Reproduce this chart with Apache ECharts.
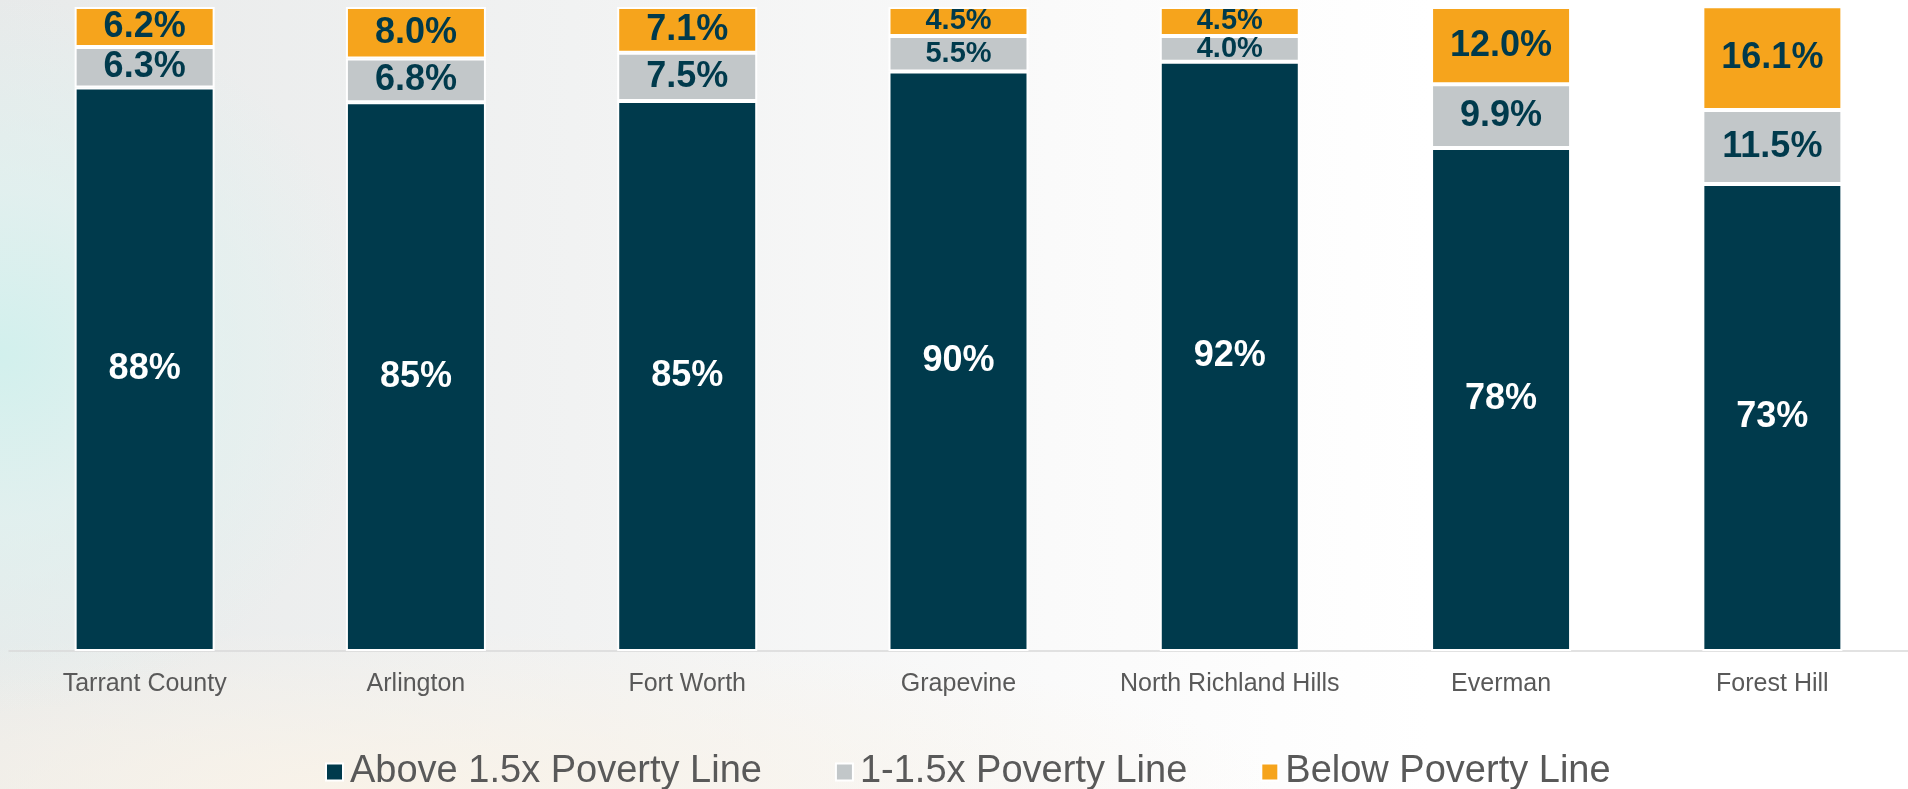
<!DOCTYPE html>
<html>
<head>
<meta charset="utf-8">
<script src="https://cdn.jsdelivr.net/npm/echarts@6/dist/echarts.min.js"></script>
<style>
html,body{margin:0;padding:0;width:1908px;height:789px;overflow:hidden;}
body{
  background:
    radial-gradient(ellipse 380px 360px at 0% 45%, rgba(210,240,237,1) 0%, rgba(222,242,240,0.7) 45%, rgba(255,255,255,0) 100%),
    radial-gradient(ellipse 900px 160px at 20% 100%, rgba(250,243,232,0.9) 0%, rgba(255,255,255,0) 100%),
    linear-gradient(to right, #e8eaea 0%, #f1f2f2 30%, #fafafa 55%, #ffffff 75%);
}
#chart{width:1908px;height:789px;}
</style>
</head>
<body>
<div id="chart"></div>
<script>
const categories = ['Tarrant County','Arlington','Fort Worth','Grapevine','North Richland Hills','Everman','Forest Hill'];
const aboveValues = [87.5, 85.2, 85.4, 90.0, 91.5, 78.1, 72.5];
const midValues = [6.3, 6.8, 7.5, 5.5, 4.0, 9.9, 11.5];
const belowValues = [6.2, 8.0, 7.1, 4.5, 4.5, 12.0, 16.1];
const seriesNames = ['Above 1.5x Poverty Line', '1-1.5x Poverty Line', 'Below Poverty Line'];

const DARK = '#003A4C', GRAY = '#C2C7C9', ORANGE = '#F6A41C';
const labelFont = "'Liberation Sans', Arial, sans-serif";

function smallItems(arr){
  return arr.map(v => ({ value: v, label: { fontSize: v < 6 ? 29 : 36 } }));
}

const chart = echarts.init(document.getElementById('chart'));
chart.setOption({
  backgroundColor: 'transparent',
  animation: false,
  grid: { left: 9, right: -9, top: 7, bottom: 138, containLabel: false },
  xAxis: {
    type: 'category',
    data: categories,
    axisLine: { lineStyle: { color: '#d9d9d9', width: 1.5 } },
    axisTick: { show: false },
    axisLabel: { interval: 0, color: '#595959', fontSize: 25, fontFamily: labelFont, margin: 21 }
  },
  yAxis: { type: 'value', min: 0, max: 100, show: false, splitLine: { show: false } },
  legend: {
    data: seriesNames,
    left: 320,
    top: 748,
    icon: 'rect',
    itemWidth: 17,
    itemHeight: 17,
    itemGap: 73,
    textStyle: { color: '#595959', fontSize: 38, fontFamily: labelFont, padding: [0,0,0,2] }
  },
  series: [
    {
      name: seriesNames[0], type: 'bar', stack: 's', barWidth: 140,
      data: aboveValues,
      itemStyle: { color: DARK, borderColor: '#ffffff', borderWidth: 2 },
      label: { show: true, position: 'inside', color: '#ffffff', fontWeight: 'bold', fontSize: 36, fontFamily: labelFont,
        formatter: p => Math.round(p.value) + '%' }
    },
    {
      name: seriesNames[1], type: 'bar', stack: 's', barWidth: 140,
      data: smallItems(midValues),
      itemStyle: { color: GRAY, borderColor: '#ffffff', borderWidth: 2 },
      label: { show: true, position: 'inside', color: DARK, fontWeight: 'bold', fontSize: 36, fontFamily: labelFont,
        formatter: p => p.value.toFixed(1) + '%' }
    },
    {
      name: seriesNames[2], type: 'bar', stack: 's', barWidth: 140,
      data: smallItems(belowValues),
      itemStyle: { color: ORANGE, borderColor: '#ffffff', borderWidth: 2 },
      label: { show: true, position: 'inside', color: DARK, fontWeight: 'bold', fontSize: 36, fontFamily: labelFont,
        formatter: p => p.value.toFixed(1) + '%' }
    }
  ]
});
</script>
</body>
</html>
